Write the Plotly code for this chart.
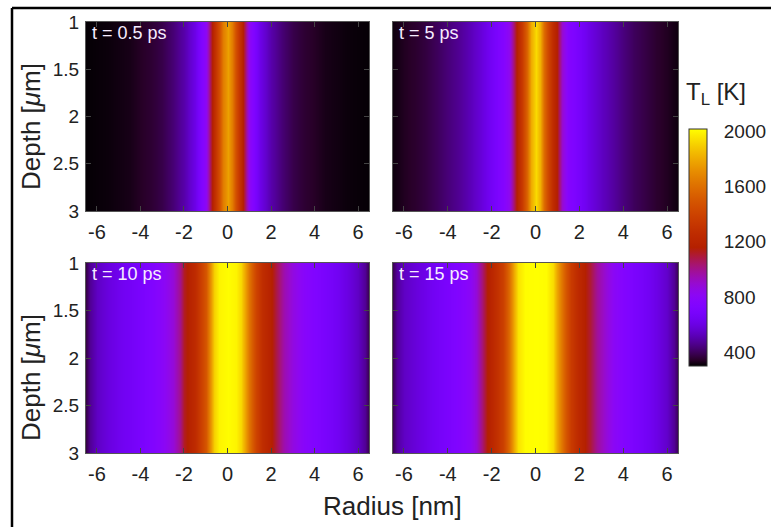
import numpy as np
import plotly.graph_objects as go

W, H = 771, 527

# ---------------- data ----------------
depth = [1.0, 3.0]  # µm, profiles are uniform in depth

radius_05 = [-6.5, -5.5, -4.5, -3.5, -3.0, -2.5, -2.0, -1.5, -1.2, -1.0, -0.8, -0.6, -0.4, -0.2, 0.0,
             0.2, 0.4, 0.6, 0.8, 1.0, 1.2, 1.5, 2.0, 2.5, 3.0, 3.5, 4.5, 5.5, 6.5]
temp_05 = [305, 312, 325, 355, 380, 430, 500, 610, 720, 820, 1050, 1250, 1450, 1650, 1770,
           1650, 1450, 1250, 1050, 820, 720, 610, 500, 430, 380, 355, 325, 312, 305]

radius_5 = [-6.5, -6.0, -5.5, -5.0, -4.5, -4.0, -3.5, -3.0, -2.5, -2.0, -1.5, -1.2, -1.0, -0.8, -0.6, -0.4, -0.2, 0.0,
            0.2, 0.4, 0.6, 0.8, 1.0, 1.2, 1.5, 2.0, 2.5, 3.0, 3.5, 4.0, 4.5, 5.0, 5.5, 6.0, 6.5]
temp_5 = [315, 335, 350, 370, 400, 435, 470, 520, 580, 660, 750, 830, 1050, 1220, 1350, 1560, 1800, 1930,
          1820, 1580, 1380, 1250, 1150, 900, 760, 680, 600, 540, 490, 440, 400, 375, 350, 335, 315]

radius_10 = [-6.5, -6.3, -6.0, -5.5, -5.0, -4.5, -4.0, -3.5, -3.0, -2.5, -2.2, -2.0, -1.5, -1.2, -1.0, -0.8, -0.6, -0.4, 0.0,
             0.4, 0.6, 0.8, 1.0, 1.3, 1.6, 2.0, 2.3, 2.6, 3.0, 3.5, 4.0, 4.5, 5.0, 5.5, 6.0, 6.3, 6.5]
temp_10 = [380, 470, 540, 590, 630, 660, 690, 730, 790, 880, 1000, 1120, 1250, 1380, 1500, 1700, 1900, 1990, 2010,
           1990, 1920, 1780, 1620, 1400, 1270, 1170, 1050, 950, 860, 780, 730, 690, 650, 600, 540, 470, 380]

radius_15 = [-6.5, -6.3, -6.0, -5.5, -5.0, -4.5, -4.0, -3.5, -3.0, -2.7, -2.5, -2.2, -2.0, -1.5, -1.2, -1.0, -0.8, -0.5, 0.0,
             0.5, 0.8, 1.0, 1.3, 1.6, 2.0, 2.5, 2.8, 3.2, 3.6, 4.0, 4.5, 5.0, 5.5, 6.0, 6.3, 6.5]
temp_15 = [400, 480, 540, 580, 620, 660, 700, 740, 800, 880, 1000, 1150, 1220, 1380, 1580, 1800, 1950, 2010, 2015,
           2010, 1930, 1780, 1550, 1350, 1230, 1100, 980, 880, 800, 750, 700, 660, 610, 550, 470, 390]

panel_labels = ["t = 0.5 ps", "t = 5 ps", "t = 10 ps", "t = 15 ps"]
x_ticks = [-6, -4, -2, 0, 2, 4, 6]
x_ticktext = ["-6", "-4", "-2", "0", "2", "4", "6"]
y_ticks = [1, 1.5, 2, 2.5, 3]
y_ticktext = ["1", "1.5", "2", "2.5", "3"]
cbar_ticks = [400, 800, 1200, 1600, 2000]
cbar_ticktext = ["400", "800", "1200", "1600", "2000"]
t_min, t_max = 300, 2015

# ---------------- gnuplot (7,5,15) palette ----------------
stops = []
for s in np.linspace(0, 1, 41):
    r = np.sqrt(s)
    g = s ** 3
    b = max(np.sin(2 * np.pi * s), 0.0)
    stops.append([float(s), f"rgb({int(round(r*255))},{int(round(g*255))},{int(round(b*255))})"])

FONT = "Liberation Sans, Arial, Helvetica, sans-serif"
TXT = "#222222"

def px_x(p):
    return p / W

def px_y(p):
    return 1 - p / H

panels = [
    (radius_05, temp_05, (86, 369), (22, 211)),
    (radius_5, temp_5, (393, 678), (22, 211)),
    (radius_10, temp_10, (86, 369), (263, 453)),
    (radius_15, temp_15, (393, 678), (263, 453)),
]

fig = go.Figure()
layout = dict(
    width=W, height=H, autosize=False,
    margin=dict(l=0, r=0, t=0, b=0, autoexpand=False),
    paper_bgcolor="white", plot_bgcolor="white",
    font=dict(family=FONT, color=TXT, size=19),
    showlegend=False,
    coloraxis=dict(
        colorscale=stops, cmin=t_min, cmax=t_max,
        colorbar=dict(
            x=px_x(689), xanchor="left", xpad=0,
            y=px_y(129), yanchor="top", ypad=0,
            lenmode="pixels", len=237, thickness=18,
            outlinewidth=1, outlinecolor="#333333",
            tickvals=cbar_ticks, ticktext=cbar_ticktext,
            ticks="outside", ticklen=13, tickcolor="rgba(0,0,0,0)",
            tickfont=dict(size=19, family=FONT, color=TXT),
        ),
    ),
)

annotations = []
for i, (rad, temp, (x0, x1), (y0, y1)) in enumerate(panels):
    n = i + 1
    sfx = "" if n == 1 else str(n)
    z = [temp for _ in depth]
    fig.add_trace(go.Heatmap(
        x=rad, y=depth, z=z, coloraxis="coloraxis", zsmooth="best",
        xaxis="x" + sfx, yaxis="y" + sfx, hoverinfo="skip",
    ))
    layout["xaxis" + sfx] = dict(
        domain=[px_x(x0), px_x(x1)], anchor="y" + sfx, range=[-6.5, 6.5],
        tickvals=x_ticks, ticktext=x_ticktext, ticks="inside", ticklen=5, tickcolor="#444444",
        showline=True, linecolor="#555555", linewidth=1, mirror="ticks",
        showgrid=False, zeroline=False, tickfont=dict(size=20),
        ticklabelstandoff=3,
    )
    layout["yaxis" + sfx] = dict(
        domain=[px_y(y1), px_y(y0)], anchor="x" + sfx, range=[3, 1],
        tickvals=y_ticks, ticktext=y_ticktext, ticks="inside", ticklen=5, tickcolor="#444444",
        showline=True, linecolor="#555555", linewidth=1, mirror="ticks",
        showgrid=False, zeroline=False, tickfont=dict(size=19),
        showticklabels=(n in (1, 3)), ticklabelstandoff=2,
    )
    annotations.append(dict(
        text=panel_labels[i], x=px_x(x0 + 4), y=px_y(y0 + 11), xref="paper", yref="paper",
        xanchor="left", yanchor="middle", showarrow=False,
        font=dict(size=18, color="#f6ecff", family=FONT),
    ))

# axis titles
annotations.append(dict(text="Radius [nm]", x=px_x(392), y=px_y(506), xref="paper", yref="paper",
                        xanchor="center", yanchor="middle", showarrow=False,
                        font=dict(size=26, family=FONT, color=TXT)))
for yc in (127, 378):
    annotations.append(dict(text="Depth [<i>μ</i>m]", x=px_x(31), y=px_y(yc), xref="paper", yref="paper",
                            xanchor="center", yanchor="middle", showarrow=False, textangle=-90,
                            font=dict(size=26, family=FONT, color=TXT)))
# colorbar title
annotations.append(dict(text="T<sub>L</sub> [K]", x=px_x(684), y=px_y(93), xref="paper", yref="paper",
                        xanchor="left", yanchor="middle", showarrow=False,
                        font=dict(size=24, family=FONT, color=TXT)))
layout["annotations"] = annotations

# frame lines (top and left edges of the cropped figure)
layout["shapes"] = [
    dict(type="line", xref="paper", yref="paper", x0=px_x(12), x1=1, y0=px_y(8), y1=px_y(8),
         line=dict(color="black", width=2.5)),
    dict(type="line", xref="paper", yref="paper", x0=px_x(12), x1=px_x(12), y0=px_y(8), y1=0,
         line=dict(color="black", width=2.5)),
]

fig.update_layout(**layout)
fig.write_html("out.html", config={"displayModeBar": False},
               post_script="document.body.style.margin='0px';")
